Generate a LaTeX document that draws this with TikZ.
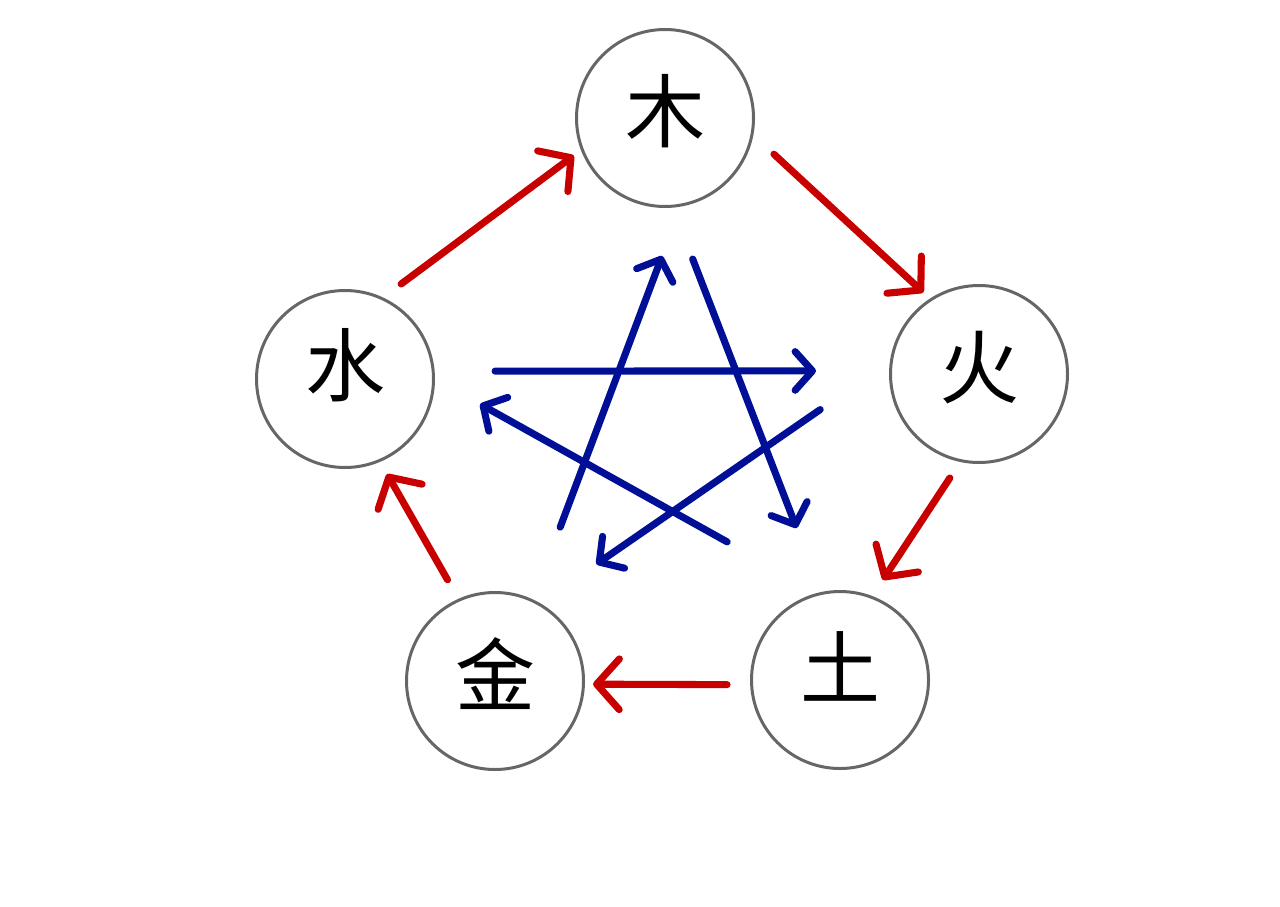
\documentclass[tikz,border=0pt]{standalone}
\usepackage{fontspec}
\newfontfamily\cjkfont{Noto Sans CJK SC}
\usetikzlibrary{arrows.meta}
\definecolor{shengred}{RGB}{200,0,0}
\definecolor{keblue}{RGB}{0,15,150}
\definecolor{ringgray}{RGB}{102,102,102}

\begin{document}
\begin{tikzpicture}[x=0.75pt,y=-0.75pt,
  element/.style={circle, draw=ringgray, line width=2.25pt, minimum size=132.75pt, inner sep=0pt},
  glyph/.style={font=\cjkfont\fontsize{60}{60}\selectfont, inner sep=0pt, yshift=#1},
  sheng/.style={shengred, line width=5.3pt, line cap=round,
    -{Straight Barb[length=17pt,width=38pt,round]}},
  ke/.style={keblue, line width=5.3pt, line cap=round,
    -{Straight Barb[length=13pt,width=29pt,round]}}]
\useasboundingbox (0,0) rectangle (1280,906);
\node[element, label={[glyph=4.9pt]center:木}] (mu) at (665,118) {};
\node[element, label={[glyph=4.9pt]center:火}] (huo) at (979,374) {};
\node[element, label={[glyph=10.1pt]center:土}] (tu) at (840,680) {};
\node[element, label={[glyph=5.25pt]center:金}] (jin) at (495,681) {};
\node[element, label={[glyph=10.5pt]center:水}] (shui) at (345,379) {};
\draw[sheng, shorten <=16.9pt, shorten >=6.7pt] (shui.65) -- (mu.201);
\draw[sheng, shorten <=21pt, shorten >=6.75pt] (mu.349) -- (huo.123);
\draw[sheng, shorten <=14.3pt, shorten >=14.4pt] (huo.258) -- (tu.69);
\draw[sheng, shorten <=17.3pt, shorten >=6.1pt] (tu.183) -- (jin.358);
\draw[sheng, shorten <=16.4pt, shorten >=10.5pt] (jin.114) -- (shui.293);
\draw[ke, shorten <=57.9pt, shorten >=39.5pt] (jin.65) -- (mu.280);
\draw[ke, shorten <=41.3pt, shorten >=51.4pt] (mu.275) -- (tu.102);
\draw[ke, shorten <=78.2pt, shorten >=38.7pt] (tu.104) -- (shui.0);
\draw[ke, shorten <=45.3pt, shorten >=54.8pt] (shui.5) -- (huo.178);
\draw[ke, shorten <=63.5pt, shorten >=51.4pt] (huo.172) -- (jin.60);
\end{tikzpicture}
\end{document}
